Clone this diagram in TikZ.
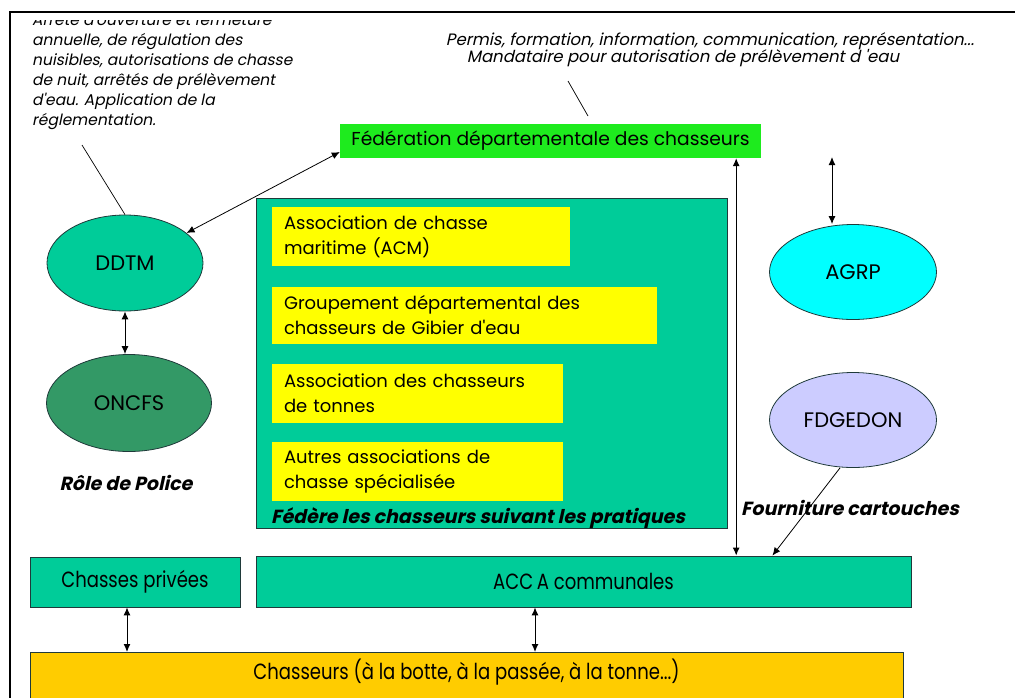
\documentclass[tikz,border=0pt]{standalone}
\usepackage{fontspec}
\usetikzlibrary{arrows.meta,shapes.geometric}
\newfontfamily\comic{Poppins}
\newfontfamily\comicit{Poppins}[FakeSlant=0.2]
\newfontfamily\comicbi{Poppins}[FakeSlant=0.22]
\newfontfamily\narrowf{Poppins}[FakeStretch=0.82]
\definecolor{teal1}{HTML}{00CC99}
\definecolor{oncfsc}{HTML}{339966}
\definecolor{agrpc}{HTML}{00FFFF}
\definecolor{fdgc}{HTML}{CCCCFF}
\definecolor{fedc}{HTML}{1EEB1E}
\definecolor{yel}{HTML}{FFFF00}
\definecolor{gold1}{HTML}{FFCC00}
\definecolor{bord}{HTML}{1F3A3A}
\tikzset{
  box/.style={rectangle, inner sep=0pt, draw=bord, line width=0.9pt},
  ybox/.style={rectangle, fill=yel, inner xsep=12pt, inner ysep=0pt, align=left,
    font=\comic\fontsize{18}{25}\selectfont},
  ell/.style={ellipse, draw=bord, line width=0.8pt, inner sep=0pt, font=\comic\fontsize{21}{24}\selectfont},
  bi/.style={inner sep=0pt, font=\comicbi\bfseries\fontsize{19}{22}\selectfont},
  conn/.style={line width=1pt, black},
  dbl/.style={conn, {Latex[length=8pt,width=7pt]}-{Latex[length=8pt,width=7pt]}},
  one/.style={conn, -{Latex[length=8pt,width=7pt]}},
  thin/.style={line width=0.7pt, black},
  bottomtxt/.style={font=\narrowf\fontsize{22}{26}\selectfont}
}
\begin{document}
\begin{tikzpicture}[x=1pt,y=-1pt]
\useasboundingbox (0,0) rectangle (1015,697);
% frame
\draw[line width=2pt] (1015,12) -- (10,12) -- (10,700);
% top-left text (clipped at top)
\begin{scope}
\clip (12,20) rectangle (335,140);
\node[anchor=north west, inner sep=0pt, align=left, font=\comicit\fontsize{15.5}{20}\selectfont] (regl) at (32,12.5)
 {Arrêté d'ouverture et fermeture\\annuelle, de régulation des\\nuisibles, autorisations de chasse\\de nuit, arrêtés de prélèvement\\d'eau. Application de la\\réglementation.};
\end{scope}
% top-right text
\node[anchor=base, inner sep=0pt, font=\comicbi\fontsize{16.5}{19}\selectfont] (permis) at (710,45)
 {Permis, formation, information, communication, représentation...};
\node[anchor=base, inner sep=0pt, font=\comicbi\fontsize{16.5}{19}\selectfont] (mandat) at (683,62)
 {Mandataire pour autorisation de prélèvement d 'eau};
% federation
\node[rectangle, fill=fedc, inner sep=0pt, minimum width=421, minimum height=34,
  font=\comic\fontsize{18.7}{22}\selectfont] (fed) at (550.5,141) {Fédération départementale des chasseurs};
% big teal box
\node[box, fill=teal1, minimum width=471, minimum height=330] (pratiques) at (491.5,363) {};
\node[ybox, text width=274, minimum height=59] (acm) at (421,236.5) {Association de chasse\\maritime (ACM)};
\node[ybox, text width=361, minimum height=57] (gde) at (464.5,315.5) {Groupement départemental des\\chasseurs de Gibier d'eau};
\node[ybox, text width=267, minimum height=59] (act) at (417.5,393.5) {Association des chasseurs\\de tonnes};
\node[ybox, text width=267, minimum height=59] (aut) at (417.5,471.5) {Autres associations de\\chasse spécialisée};
\node[bi] (federe) at (478,518) {Fédère les chasseurs suivant les pratiques};
% ellipses
\node[ell, fill=teal1, minimum width=156, minimum height=96] (ddtm) at (125,263) {DDTM};
\node[ell, fill=oncfsc, minimum width=165, minimum height=97] (oncfs) at (129,403) {ONCFS};
\node[bi] (police) at (126,483) {Rôle de Police};
\node[ell, fill=agrpc, minimum width=167, minimum height=95] (agrp) at (853,272) {AGRP};
\node[ell, fill=fdgc, minimum width=167, minimum height=95] (fdg) at (853,420) {FDGEDON};
\node[bi] (fourn) at (850,508) {Fourniture cartouches};
% bottom boxes
\node[box, fill=teal1, minimum width=210, minimum height=50, bottomtxt] (cp) at (135,582) {Chasses privées};
\node[box, fill=teal1, minimum width=655, minimum height=51, bottomtxt] (acca) at (583.5,581.5) {ACC\,A communales};
\node[box, fill=gold1, anchor=north, minimum width=873, inner ysep=12pt, text height=15pt, text depth=45pt,
  bottomtxt] (chas) at (466.5,652) {Chasseurs (à la botte, à la passée, à la tonne...)};
% connectors
\coordinate (reglend) at (82,145);
\draw[thin] (reglend) -- (ddtm.north);
\coordinate (tickA) at (568,81);
\coordinate (tickB) at (588,116);
\draw[thin] (tickA) -- (tickB);
\draw[dbl, line width=0.8pt] (ddtm.26) -- ([yshift=-11pt]fed.west);
\draw[dbl] (ddtm.south) -- (ddtm.south |- oncfs.north);
\draw[dbl] ([xshift=-25pt]fed.south east) -- ([xshift=-25pt]fed.south east |- acca.north);
\coordinate (agtop) at (832,157);
\draw[dbl] (agtop) -- ([xshift=-21pt]agrp.north);
\draw[one, line width=0.8pt] ([xshift=-13pt]fdg.south) -- ([xshift=-139pt]acca.north east);
\draw[dbl] ([xshift=-8pt]cp.south) -- ([xshift=-8pt]cp.south |- chas.north);
\draw[dbl] ([xshift=-48.5pt]acca.south) -- ([xshift=-48.5pt]acca.south |- chas.north);
\end{tikzpicture}
\end{document}
